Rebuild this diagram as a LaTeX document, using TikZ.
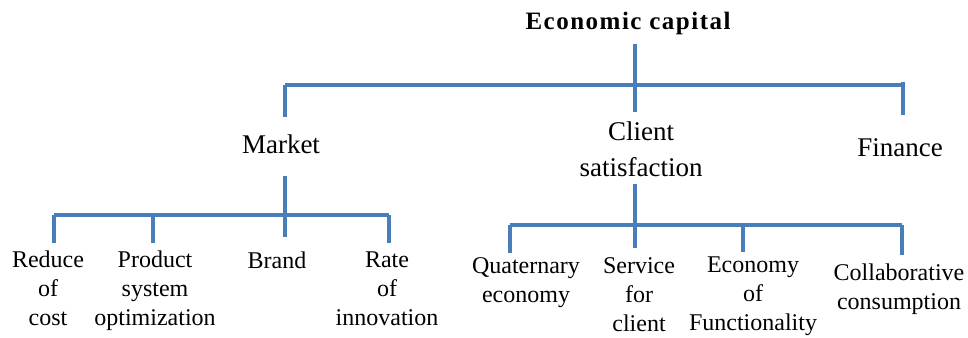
\documentclass[tikz,border=0pt]{standalone}
\usepackage{fontspec}
\setmainfont{Liberation Serif}
\newfontfamily\headfont[LetterSpace=6]{Liberation Serif}
\definecolor{barblue}{RGB}{74,126,187}

\begin{document}
\begin{tikzpicture}[x=1pt,y=-1pt,
  branch/.style={barblue, line width=3.2pt},
  head/.style={anchor=north, inner sep=0pt, font=\headfont\fontsize{25}{30}\selectfont\bfseries},
  midlbl/.style={anchor=north, inner sep=0pt, align=center, font=\fontsize{27}{36}\selectfont},
  leaflbl/.style={anchor=north, inner sep=0pt, align=center, font=\fontsize{24}{29}\selectfont}]
  \useasboundingbox (0,0) rectangle (968,337);

  % top level
  \node[head] (ecap) at (628,12) {Economic capital};
  \node[midlbl] (market) at (281,135) {Market};
  \node[midlbl] (client) at (641,122) {Client\\satisfaction};
  \node[midlbl] (finance) at (900,138) {Finance};

  % leaves
  \node[leaflbl] (reduce) at (48,251) {Reduce\\of\\cost};
  \node[leaflbl] (product) at (155,251) {Product\\system\\optimization};
  \node[leaflbl] (brand) at (277,252) {Brand};
  \node[leaflbl] (rate) at (387,252) {Rate\\of\\innovation};
  \node[leaflbl] (quat) at (526,257) {Quaternary\\economy};
  \node[leaflbl] (service) at (639,257) {Service\\for\\client};
  \node[leaflbl] (econ) at (753,257) {Economy\\of\\Functionality};
  \node[leaflbl] (collab) at (899,264) {Collaborative\\consumption};

  % bars
  \coordinate (capL) at (285,85);
  \coordinate (capM) at (635,85);
  \coordinate (capR) at (903,85);
  \coordinate (mktL) at (54,215);
  \coordinate (mktP) at (153,215);
  \coordinate (mktM) at (285,215);
  \coordinate (mktR) at (389,215);
  \coordinate (cliL) at (510,225);
  \coordinate (cliM) at (635,225);
  \coordinate (cliE) at (743,225);
  \coordinate (cliR) at (902,225);

  \draw[branch] (capL) -- (capR);
  \draw[branch] ([yshift=-8.5pt]ecap.south -| capM) -- ([yshift=10pt]client.north -| capM);
  \draw[branch] (capL) -- ([yshift=18pt]market.north -| capL);
  \draw[branch] ([yshift=3pt]capR) -- ([yshift=23pt]finance.north -| capR);

  \draw[branch] (mktL) -- (mktR);
  \draw[branch] ([yshift=-21.5pt]market.south -| mktM) -- ([yshift=15pt]brand.north -| mktM);
  \draw[branch] (mktL) -- ([yshift=8pt]reduce.north -| mktL);
  \draw[branch] (mktP) -- ([yshift=8pt]product.north -| mktP);
  \draw[branch] (mktR) -- ([yshift=9pt]rate.north -| mktR);

  \draw[branch] (cliL) -- (cliR);
  \draw[branch] ([yshift=-6.5pt]client.south -| cliM) -- ([yshift=9pt]service.north -| cliM);
  \draw[branch] (cliL) -- ([yshift=4pt]quat.north -| cliL);
  \draw[branch] (cliE) -- ([yshift=5pt]econ.north -| cliE);
  \draw[branch] (cliR) -- ([yshift=9pt]collab.north -| cliR);
\end{tikzpicture}
\end{document}
